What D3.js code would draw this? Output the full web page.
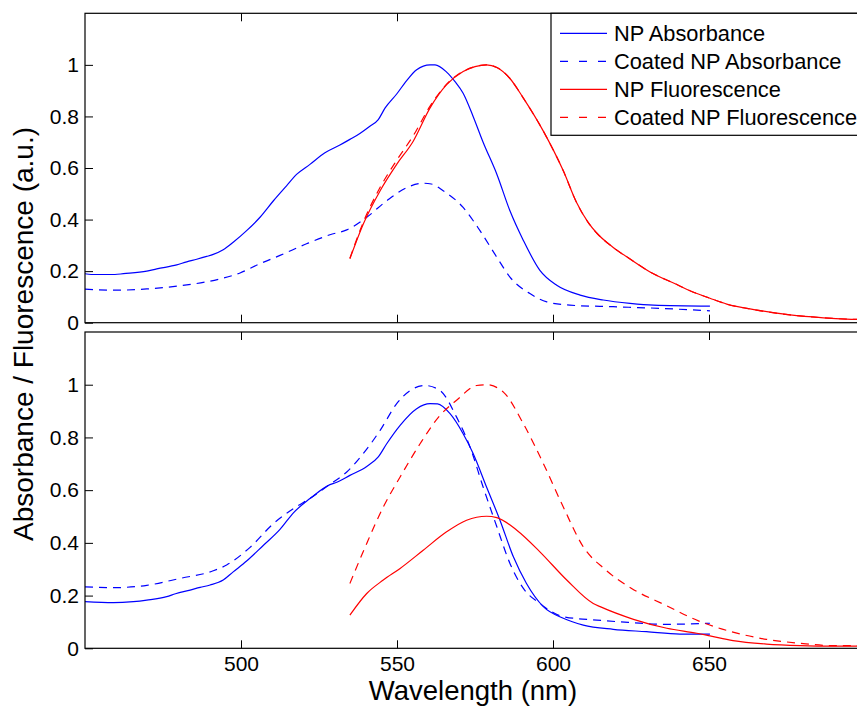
<!DOCTYPE html>
<meta charset="utf-8">
<html>
<body style="margin:0;background:#fff">
<div id="chartContainer"></div>
<script src="https://d3js.org/d3.v7.min.js"></script>
<script type="text/javascript">
  // [wavelength nm, normalised value]
  var topNpAbs = [[450,0.19],[452,0.187],[459.6,0.187],[462.3,0.19],[469.8,0.2],[473,0.209],[479.4,0.224],[482.6,0.236],[485.8,0.246],[489,0.257],[491.1,0.265],[494.3,0.283],[497.5,0.312],[501.8,0.357],[506.1,0.409],[510.4,0.473],[514.6,0.531],[517.9,0.576],[522.1,0.614],[526.9,0.659],[531.7,0.689],[534.9,0.711],[538.1,0.734],[541.3,0.762],[544,0.788],[546.2,0.833],[549.9,0.887],[553.1,0.939],[556.3,0.981],[560.6,1.0],[562.2,1.0],[565.9,0.972],[568.6,0.935],[571.2,0.89],[574.4,0.8],[577.6,0.7],[582,0.576],[586.2,0.434],[590.5,0.319],[595.8,0.203],[601.2,0.145],[608.7,0.107],[616.1,0.088],[624.7,0.075],[632.2,0.068],[650.3,0.064]];
  var topCoatedAbs = [[450,0.13],[459.6,0.126],[469.8,0.131],[480.4,0.143],[493.3,0.17],[499.7,0.193],[506.1,0.229],[512.5,0.261],[521,0.306],[528.5,0.341],[533.9,0.36],[540.3,0.409],[546.7,0.473],[553.1,0.524],[558.4,0.541],[561,0.538],[564.8,0.512],[571.2,0.447],[576.6,0.357],[582,0.254],[586.2,0.177],[592.6,0.113],[598,0.081],[605.4,0.068],[619.3,0.062],[635.4,0.055],[650.3,0.046]];
  var topNpFluo = [[534.9,0.248],[539.2,0.383],[544.6,0.512],[549.9,0.614],[555.2,0.704],[560.6,0.833],[565.9,0.923],[571.2,0.974],[575,0.993],[578.7,1.0],[582,0.99],[586,0.95],[590.5,0.871],[596.9,0.743],[603.3,0.589],[607.6,0.465],[611.2,0.39],[614,0.348],[619.3,0.292],[624.7,0.247],[631.1,0.197],[639.7,0.148],[643.9,0.124],[650.3,0.095],[655.7,0.072],[665.3,0.049],[676,0.03],[686.7,0.019],[694.1,0.014],[700,0.012]];
  var topCoatedFluo = [[534.9,0.25],[539.2,0.39],[544.6,0.525],[549.9,0.63],[555.2,0.725],[560.6,0.84],[565.9,0.925],[571.2,0.975],[575,0.993],[578.7,1.0],[582,0.99],[586,0.95],[590.5,0.871],[596.9,0.743],[603.3,0.589],[607.6,0.465],[611.2,0.39],[614,0.348],[619.3,0.292],[624.7,0.247],[631.1,0.197],[639.7,0.148],[643.9,0.124],[650.3,0.095],[655.7,0.072],[665.3,0.049],[676,0.03],[686.7,0.019],[694.1,0.014],[700,0.012]];

  var botNpAbs = [[450,0.177],[459.1,0.173],[465.5,0.177],[469.8,0.183],[476.2,0.196],[479,0.207],[483.7,0.221],[486.9,0.231],[490.1,0.24],[494.3,0.259],[497.5,0.29],[501.8,0.331],[507.2,0.391],[512.5,0.451],[516.8,0.514],[522.1,0.568],[528.5,0.621],[530.7,0.63],[534.9,0.656],[540.3,0.69],[544,0.726],[546.7,0.776],[551,0.846],[556.3,0.909],[560.6,0.928],[563,0.927],[567,0.89],[571.2,0.814],[574.4,0.739],[578.7,0.612],[583,0.486],[587.3,0.347],[591.5,0.246],[596.9,0.158],[603.3,0.114],[609.7,0.088],[619.3,0.072],[630,0.063],[640.7,0.054],[650.3,0.054]];
  var botCoatedAbs = [[450,0.233],[459.1,0.23],[469.8,0.239],[480.4,0.265],[491.1,0.294],[495.4,0.316],[502.9,0.383],[510.4,0.473],[516.8,0.53],[523.2,0.577],[528.5,0.622],[533.9,0.669],[539.2,0.739],[544.6,0.827],[549.9,0.928],[554.2,0.978],[559,0.997],[563.8,0.978],[569.1,0.877],[573.4,0.764],[577.6,0.612],[582,0.461],[586.2,0.322],[590.5,0.227],[595.8,0.17],[603.3,0.12],[614,0.107],[624.7,0.098],[635.4,0.091],[650.3,0.095]];
  var botNpFluo = [[534.9,0.126],[540.3,0.208],[545.6,0.259],[551,0.303],[558.4,0.372],[565.9,0.442],[572.3,0.486],[578.7,0.501],[582,0.496],[588.4,0.448],[595.8,0.366],[604.4,0.259],[612.9,0.17],[615.1,0.158],[625.8,0.11],[636.5,0.076],[646.1,0.057],[650.3,0.047],[657.7,0.029],[668.4,0.016],[679.2,0.01],[689.9,0.008],[700,0.008]];
  var botCoatedFluo = [[534.9,0.246],[540.3,0.398],[545.6,0.536],[551,0.65],[557.4,0.776],[563.8,0.884],[569.1,0.941],[575.5,0.997],[578.7,1.0],[584.1,0.972],[590.5,0.852],[596.9,0.701],[603.3,0.536],[609.7,0.385],[616.6,0.3],[625.2,0.227],[636,0.164],[646.6,0.104],[657.2,0.063],[668.4,0.034],[679.2,0.019],[689.9,0.01],[700,0.01]];

  var seriesNames = ["NP Absorbance", "Coated NP Absorbance", "NP Fluorescence", "Coated NP Fluorescence"];
  var seriesColors = ["#0000ff", "#0000ff", "#ff0000", "#ff0000"];
  var seriesDashed = [false, true, false, true];
  var xTicks = [500, 550, 600, 650];
  var yTicks = [0, 0.2, 0.4, 0.6, 0.8, 1];

  var font = "'Liberation Sans', Arial, Helvetica, sans-serif";
  var svg = d3.select("#chartContainer").append("svg")
    .attr("width", 857).attr("height", 709)
    .style("font-family", font);

  var x = d3.scaleLinear().domain([450, 700]).range([85, 865]);

  var panels = [
    { top: 13.3, bottom: 322.7, data: [topNpAbs, topCoatedAbs, topNpFluo, topCoatedFluo], labels: false },
    { top: 332, bottom: 648.3, data: [botNpAbs, botCoatedAbs, botNpFluo, botCoatedFluo], labels: true }
  ];

  panels.forEach(function (p, pi) {
    var y = d3.scaleLinear().domain([0, 1.2]).range([p.bottom, p.top]);
    var g = svg.append("g");

    g.append("clipPath").attr("id", "clip" + pi)
      .append("rect").attr("x", 85).attr("y", p.top).attr("width", 780).attr("height", p.bottom - p.top);

    var line = d3.line()
      .x(function (d) { return x(d[0]); })
      .y(function (d) { return y(d[1]); })
      .curve(d3.curveMonotoneX);

    p.data.forEach(function (s, i) {
      g.append("path")
        .datum(s)
        .attr("clip-path", "url(#clip" + pi + ")")
        .attr("fill", "none")
        .attr("stroke", seriesColors[i])
        .attr("stroke-width", 1.2)
        .attr("stroke-dasharray", seriesDashed[i] ? "8,6" : null)
        .attr("d", line);
    });

    // axes, ticks pointing inward
    var left = g.append("g").attr("transform", "translate(85,0)")
      .call(d3.axisLeft(y).tickValues(yTicks).tickSize(-8).tickSizeOuter(0).tickPadding(6)
        .tickFormat(function (d) { return d === 0 || d === 1 ? String(d) : d3.format(".1f")(d); }));
    var bottom = g.append("g").attr("transform", "translate(0," + p.bottom + ")")
      .call(d3.axisBottom(x).tickValues(xTicks).tickSize(-8).tickSizeOuter(0).tickPadding(8)
        .tickFormat(p.labels ? d3.format("d") : ""));
    var topAx = g.append("g").attr("transform", "translate(0," + p.top + ")")
      .call(d3.axisTop(x).tickValues(xTicks).tickSize(-8).tickSizeOuter(0).tickFormat(""));

    [left, bottom, topAx].forEach(function (a) {
      a.select(".domain").remove();
      a.selectAll("line").attr("stroke", "#000").attr("stroke-width", 1);
      a.selectAll("text").style("font-family", font).style("font-size", "21px").attr("fill", "#000");
    });

    g.append("rect")
      .attr("x", 85).attr("y", p.top)
      .attr("width", 780).attr("height", p.bottom - p.top)
      .attr("fill", "none").attr("stroke", "#000").attr("stroke-width", 1.2);
  });

  // legend in the top panel
  var leg = svg.append("g").attr("transform", "translate(551,13.3)");
  leg.append("rect").attr("width", 320).attr("height", 122)
    .attr("fill", "#fff").attr("stroke", "#000").attr("stroke-width", 1.2);
  seriesNames.forEach(function (name, i) {
    var yy = 20 + i * 28;
    leg.append("line")
      .attr("x1", 9).attr("x2", 56).attr("y1", yy).attr("y2", yy)
      .attr("stroke", seriesColors[i]).attr("stroke-width", 1.2)
      .attr("stroke-dasharray", seriesDashed[i] ? "8,11" : null);
    leg.append("text")
      .attr("x", 63).attr("y", yy).attr("dy", "0.35em")
      .style("font-size", "21.8px")
      .text(name);
  });

  // axis titles
  svg.append("text")
    .attr("x", 473).attr("y", 700)
    .attr("text-anchor", "middle")
    .style("font-size", "27.5px")
    .text("Wavelength (nm)");

  svg.append("text")
    .attr("transform", "translate(33,334) rotate(-90)")
    .attr("text-anchor", "middle")
    .style("font-size", "28px")
    .text("Absorbance / Fluorescence (a.u.)");
</script>
</body>
</html>
